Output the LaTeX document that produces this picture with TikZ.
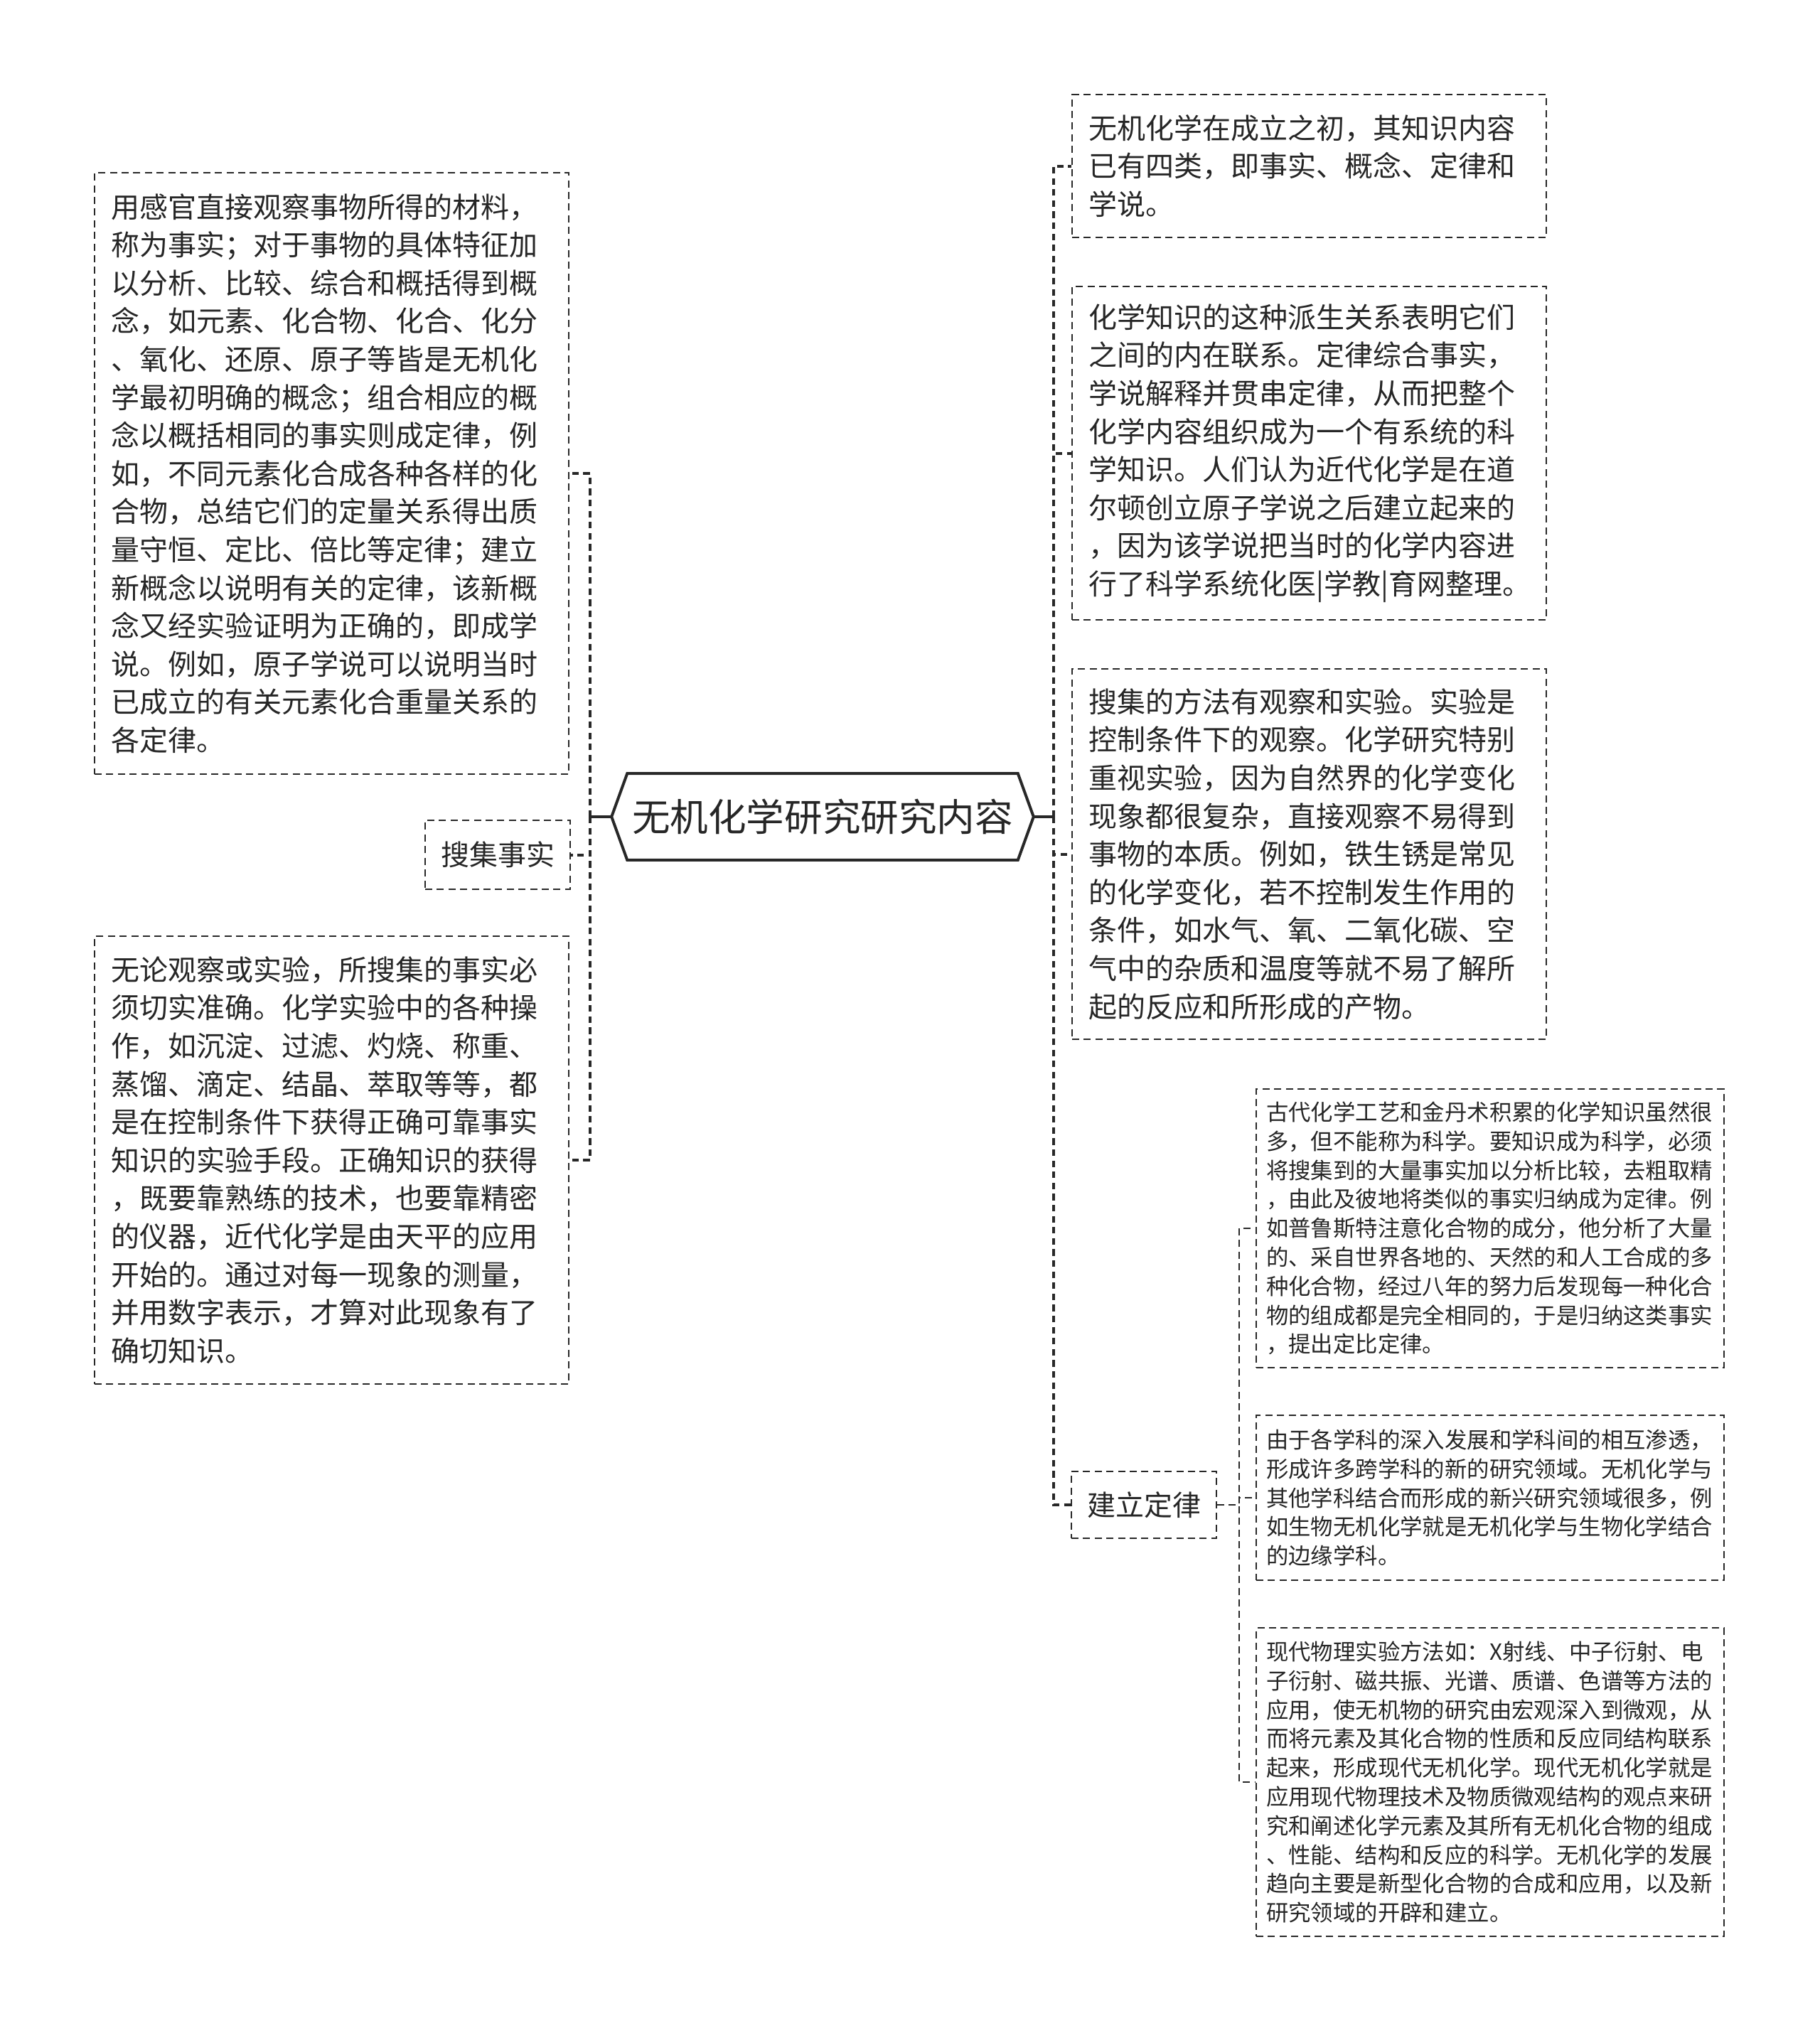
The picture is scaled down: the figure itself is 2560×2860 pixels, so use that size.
\documentclass[tikz,border=0pt]{standalone}
\usepackage{fontspec}
\setmainfont{Noto Sans CJK SC}
\definecolor{inkgray}{RGB}{40,40,40}
\definecolor{textgray}{RGB}{38,38,38}

\begin{document}
\begin{tikzpicture}[x=0.25pt, y=-0.25pt,
  leaf/.style={rectangle, draw=inkgray, line width=0.5pt, dash pattern=on 2.5pt off 1.6pt, text=textgray, align=left, inner xsep=5.5pt, inner ysep=0pt, font=\fontsize{10pt}{13.4pt}\selectfont},
  twig/.style={leaf, inner xsep=3.5pt, text width=157.5pt, minimum width=164.5pt, font=\fontsize{7.85pt}{10.2pt}\selectfont},
  stub/.style={draw=inkgray, line width=1pt},
  trunk/.style={draw=inkgray, line width=1pt, dash pattern=on 2.3pt off 1.6pt},
  branch/.style={draw=inkgray, line width=0.45pt, dash pattern=on 2.5pt off 1.6pt}]
\useasboundingbox (0,0) rectangle (2560,2860);
% Root
\node[rectangle, minimum width=148pt, minimum height=30pt, inner sep=0pt, text=textgray, font=\fontsize{13.4pt}{16pt}\selectfont] (root) at (1157,1149) {无机化学研究研究内容};
\draw[inkgray, line width=1pt] (root.west) -- ([xshift=5.5pt]root.north west) -- ([xshift=-5.5pt]root.north east) -- (root.east) -- ([xshift=-5.5pt]root.south east) -- ([xshift=5.5pt]root.south west) -- cycle;
% Left side
\node[leaf, text width=155pt, minimum width=166.75pt, minimum height=211.5pt] (l1) at (466.5,666) {用感官直接观察事物所得的材料，\\称为事实；对于事物的具体特征加\\以分析、比较、综合和概括得到概\\念，如元素、化合物、化合、化分\\、氧化、还原、原子等皆是无机化\\学最初明确的概念；组合相应的概\\念以概括相同的事实则成定律，例\\如，不同元素化合成各种各样的化\\合物，总结它们的定量关系得出质\\量守恒、定比、倍比等定律；建立\\新概念以说明有关的定律，该新概\\念又经实验证明为正确的，即成学\\说。例如，原子学说可以说明当时\\已成立的有关元素化合重量关系的\\各定律。};
\node[leaf, minimum width=50pt, minimum height=24.25pt] (l2) at (700,1202.5) {搜集事实};
\node[leaf, text width=155pt, minimum width=166.75pt, minimum height=157.5pt] (l3) at (466.5,1632) {无论观察或实验，所搜集的事实必\\须切实准确。化学实验中的各种操\\作，如沉淀、过滤、灼烧、称重、\\蒸馏、滴定、结晶、萃取等等，都\\是在控制条件下获得正确可靠事实\\知识的实验手段。正确知识的获得\\，既要靠熟练的技术，也要靠精密\\的仪器，近代化学是由天平的应用\\开始的。通过对每一现象的测量，\\并用数字表示，才算对此现象有了\\确切知识。};
% Right side
\node[leaf, text width=155pt, minimum width=166.75pt, minimum height=50.25pt] (r1) at (1841.5,233.5) {无机化学在成立之初，其知识内容\\已有四类，即事实、概念、定律和\\学说。};
\node[leaf, text width=155pt, minimum width=166.75pt, minimum height=117.25pt] (r2) at (1841.5,637.5) {化学知识的这种派生关系表明它们\\之间的内在联系。定律综合事实，\\学说解释并贯串定律，从而把整个\\化学内容组织成为一个有系统的科\\学知识。人们认为近代化学是在道\\尔顿创立原子学说之后建立起来的\\，因为该学说把当时的化学内容进\\行了科学系统化医|学教|育网整理。};
\node[leaf, text width=155pt, minimum width=166.75pt, minimum height=130.25pt] (r3) at (1841.5,1201.5) {搜集的方法有观察和实验。实验是\\控制条件下的观察。化学研究特别\\重视实验，因为自然界的化学变化\\现象都很复杂，直接观察不易得到\\事物的本质。例如，铁生锈是常见\\的化学变化，若不控制发生作用的\\条件，如水气、氧、二氧化碳、空\\气中的杂质和温度等就不易了解所\\起的反应和所形成的产物。};
\node[leaf, minimum width=50.5pt, minimum height=23.5pt] (r4) at (1609,2117) {建立定律};
% Under r4
\node[twig, minimum height=98pt] (s1) at (2096,1728) {古代化学工艺和金丹术积累的化学知识虽然很\\多，但不能称为科学。要知识成为科学，必须\\将搜集到的大量事实加以分析比较，去粗取精\\，由此及彼地将类似的事实归纳成为定律。例\\如普鲁斯特注意化合物的成分，他分析了大量\\的、采自世界各地的、天然的和人工合成的多\\种化合物，经过八年的努力后发现每一种化合\\物的组成都是完全相同的，于是归纳这类事实\\，提出定比定律。};
\node[twig, minimum height=58pt] (s2) at (2096,2107) {由于各学科的深入发展和学科间的相互渗透，\\形成许多跨学科的新的研究领域。无机化学与\\其他学科结合而形成的新兴研究领域很多，例\\如生物无机化学就是无机化学与生物化学结合\\的边缘学科。};
\node[twig, minimum height=108.5pt] (s3) at (2096,2507) {现代物理实验方法如：X射线、中子衍射、电\\子衍射、磁共振、光谱、质谱、色谱等方法的\\应用，使无机物的研究由宏观深入到微观，从\\而将元素及其化合物的性质和反应同结构联系\\起来，形成现代无机化学。现代无机化学就是\\应用现代物理技术及物质微观结构的观点来研\\究和阐述化学元素及其所有无机化合物的组成\\、性能、结构和反应的科学。无机化学的发展\\趋向主要是新型化合物的合成和应用，以及新\\研究领域的开辟和建立。};
% Connectors
\draw[stub] (root.west) -- ++(-30,0) coordinate (lbar);
\draw[stub] (root.east) -- ++(28,0) coordinate (rbar);
\foreach \kid in {l1,l2,l3}
  \draw[trunk] (lbar) |- (\kid.east);
\foreach \kid in {r1,r2,r3,r4}
  \draw[trunk] (rbar) |- (\kid.west);
\foreach \kid in {s1,s2,s3}
  \draw[branch] (r4.east) -- ++(31,0) |- (\kid.west);
\end{tikzpicture}
\end{document}
